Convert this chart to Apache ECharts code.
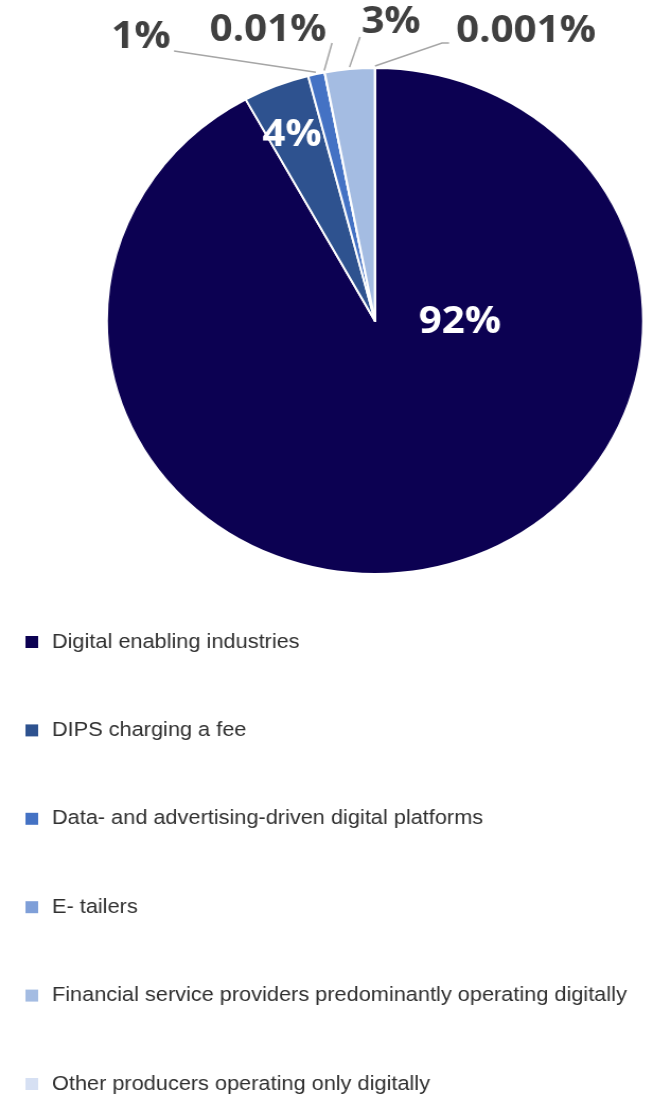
<!DOCTYPE html>
<html>
<head>
<meta charset="utf-8">
<script src="https://cdn.jsdelivr.net/npm/echarts@6/dist/echarts.min.js"></script>
<style>
  html, body { margin: 0; padding: 0; background: #ffffff; overflow: hidden; }
  /* the chart is drawn in a slightly narrower box and widened horizontally */
  #chart { width: 617px; height: 1096px; transform: scaleX(1.06); transform-origin: 0 0; }
</style>
</head>
<body>
<div id="chart"></div>
<script>
// Categories in clockwise order starting at 12 o'clock
const categories = [
  'Digital enabling industries',
  'DIPS charging a fee',
  'Data- and advertising-driven digital platforms',
  'E- tailers',
  'Financial service providers predominantly operating digitally',
  'Other producers operating only digitally'
];
// Share of value added, percent
const shares = [92, 4, 1, 0.01, 3, 0.001];
const sliceColors = ['#0c0152', '#2e528f', '#4472c4', '#7f9fd8', '#a4bce2', '#d6e0f3'];

const STRETCH = 1.06;
const CX = 375 / STRETCH, CY = 321, R = 253;

// Slices whose label sits inside the sector (white text)
const insideLabels = [0, 1];
// Label text centres, page coordinates
const labelSpots = [[460, 322], [292, 135], [141, 37], [268, 30], [391, 22], [526, 31]];
// Where each leader line leaves its label, page coordinates
const lineTails = {
  2: [[174, 51]],
  3: [[332, 43]],
  4: [[360, 37]],
  5: [[449, 43], [442, 43]]
};

// mid-angle of each slice (degrees, counter-clockwise from 3 o'clock)
const total = shares.reduce((a, b) => a + b, 0);
const midAngles = [];
{
  let acc = 0;
  shares.forEach(v => {
    const a0 = 90 - acc / total * 360;
    acc += v;
    const a1 = 90 - acc / total * 360;
    midAngles.push((a0 + a1) / 2);
  });
}
function rimPoint(i) {
  const a = midAngles[i] * Math.PI / 180;
  return [CX + (R + 2) * Math.cos(a), CY - (R + 2) * Math.sin(a)];
}

const chart = echarts.init(document.getElementById('chart'), null, { renderer: 'canvas' });

const pieData = categories.map((name, i) => {
  const inside = insideLabels.includes(i);
  return {
    name: name,
    value: shares[i],
    itemStyle: { color: sliceColors[i] },
    label: {
      position: inside ? 'inside' : 'outside',
      color: inside ? '#ffffff' : '#404040'
    },
    labelLine: { show: !inside }
  };
});

chart.setOption({
  animation: false,
  backgroundColor: '#ffffff',
  legend: {
    orient: 'vertical',
    left: 24,
    top: 630,
    height: 466,
    padding: 0,
    icon: 'rect',
    itemWidth: 12,
    itemHeight: 12,
    itemGap: 64.4,
    itemStyle: { borderWidth: 0 },
    data: categories,
    textStyle: {
      fontFamily: 'Liberation Sans, Arial, sans-serif',
      fontSize: 20.5,
      color: '#303030',
      lineHeight: 24,
      padding: [0, 0, 0, 8]
    }
  },
  series: [{
    type: 'pie',
    center: [CX, CY],
    radius: R,
    startAngle: 90,
    clockwise: true,
    avoidLabelOverlap: false,
    minShowLabelAngle: 0,
    itemStyle: { borderColor: '#ffffff', borderWidth: 2 },
    label: {
      show: true,
      fontFamily: 'Open Sans, sans-serif',
      fontWeight: 'bold',
      fontSize: 38,
      formatter: p => p.value + '%'
    },
    labelLine: {
      show: true,
      length: 10,
      length2: 10,
      smooth: false,
      lineStyle: { color: '#a6a6a6', width: 1.5 }
    },
    labelLayout: function (p) {
      const i = p.dataIndex;
      const spot = labelSpots[i];
      const out = {
        x: spot[0] / STRETCH,
        y: spot[1],
        align: 'center',
        verticalAlign: 'middle'
      };
      if (lineTails[i]) {
        const pts = lineTails[i].map(q => [q[0] / STRETCH, q[1]]);
        pts.push(rimPoint(i));
        out.labelLinePoints = pts;
      }
      return out;
    },
    emphasis: { disabled: true },
    data: pieData
  }]
});
</script>
</body>
</html>
